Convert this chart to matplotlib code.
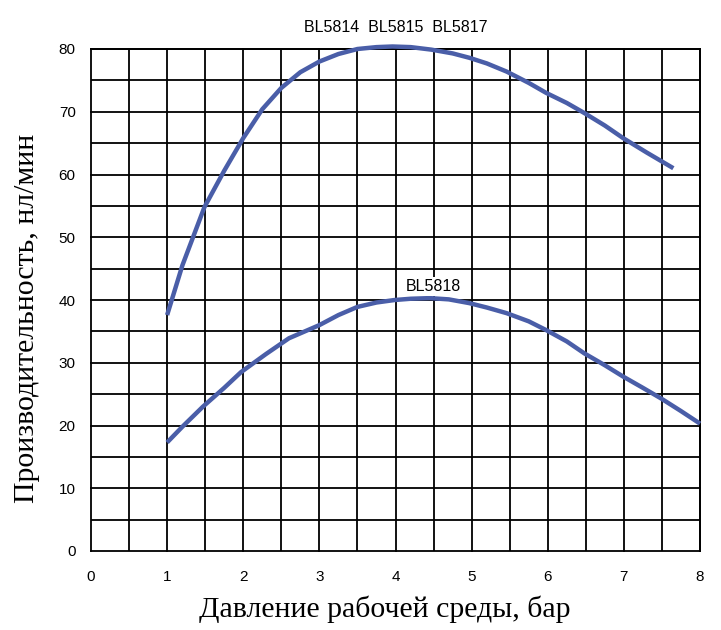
import numpy as np
import matplotlib
matplotlib.use("Agg")
import matplotlib.pyplot as plt

# верхняя кривая: BL5814 / BL5815 / BL5817
x_top = [1.0, 1.2, 1.49, 1.75, 2.0, 2.25, 2.5, 2.75, 3.0, 3.25, 3.5, 3.75, 3.96, 4.2, 4.47, 4.75, 4.97, 5.2, 5.46, 5.75, 5.98, 6.25, 6.48, 6.75, 6.99, 7.3, 7.65]
y_top = [37.6, 45.5, 54.8, 60.6, 65.8, 70.4, 73.8, 76.3, 78.0, 79.2, 80.0, 80.3, 80.4, 80.3, 79.9, 79.3, 78.6, 77.7, 76.4, 74.6, 73.0, 71.4, 69.8, 67.8, 65.8, 63.5, 61.0]

# нижняя кривая: BL5818
x_bot = [1.0, 1.2, 1.47, 1.75, 1.97, 2.3, 2.6, 3.0, 3.25, 3.5, 3.75, 3.99, 4.2, 4.45, 4.7, 4.97, 5.2, 5.46, 5.75, 5.98, 6.25, 6.48, 6.75, 6.99, 7.25, 7.49, 7.75, 8.0]
y_bot = [17.3, 19.8, 23.0, 26.0, 28.5, 31.4, 33.9, 36.0, 37.6, 38.9, 39.6, 40.0, 40.2, 40.3, 40.1, 39.5, 38.8, 37.9, 36.6, 35.2, 33.4, 31.5, 29.6, 27.8, 26.0, 24.3, 22.3, 20.3]

x_ticks = [0, 1, 2, 3, 4, 5, 6, 7, 8]
y_ticks = [0, 10, 20, 30, 40, 50, 60, 70, 80]

line_color = "#4a5ea8"

fig = plt.figure(figsize=(7.21, 6.30), dpi=100)
ax = fig.add_axes([91 / 721, 79 / 630, 609 / 721, 502 / 630])

ax.plot(x_top, y_top, color=line_color, lw=3.2, solid_capstyle="butt", zorder=3, clip_on=False)
ax.plot(x_bot, y_bot, color=line_color, lw=3.2, solid_capstyle="butt", zorder=3, clip_on=False)

ax.set_xlim(0, 8)
ax.set_ylim(0, 80)
ax.set_xticks(x_ticks)
ax.set_yticks(y_ticks)
ax.set_xticks(np.arange(0.5, 8, 1), minor=True)
ax.set_yticks(np.arange(5, 80, 10), minor=True)
ax.grid(True, which="both", color="black", lw=1.3)
ax.set_axisbelow(True)
for s in ax.spines.values():
    s.set_visible(False)
ax.tick_params(which="both", length=0)
ax.tick_params(axis="x", pad=14, labelsize=11)
ax.tick_params(axis="y", pad=11, labelsize=11)
for lbl in ax.get_xticklabels() + ax.get_yticklabels():
    lbl.set_family("Liberation Sans")
for gl in ax.get_xgridlines() + ax.get_ygridlines():
    gl.set_clip_on(False)
ax.axvline(8, color="black", lw=1.3, clip_on=False)
ax.axhline(80, color="black", lw=1.3, clip_on=False)

ax.set_xlabel("Давление рабочей среды, бар", family="Liberation Serif", fontsize=21.5)
ax.set_ylabel("Производительность, нл/мин", family="Liberation Serif", fontsize=21.5)
ax.xaxis.set_label_coords(0.483, -0.088)
ax.yaxis.set_label_coords(-0.083, 0.464)

ax.text(4.0, 83.5, "BL5814  BL5815  BL5817", ha="center", va="center", fontsize=11.5,
        family="Liberation Sans", clip_on=False)
ax.text(4.5, 42.2, "BL5818", ha="center", va="center", fontsize=11.5, family="Liberation Sans",
        bbox=dict(facecolor="white", edgecolor="none", pad=1.5), zorder=4)

fig.savefig("out.png", dpi=100)
